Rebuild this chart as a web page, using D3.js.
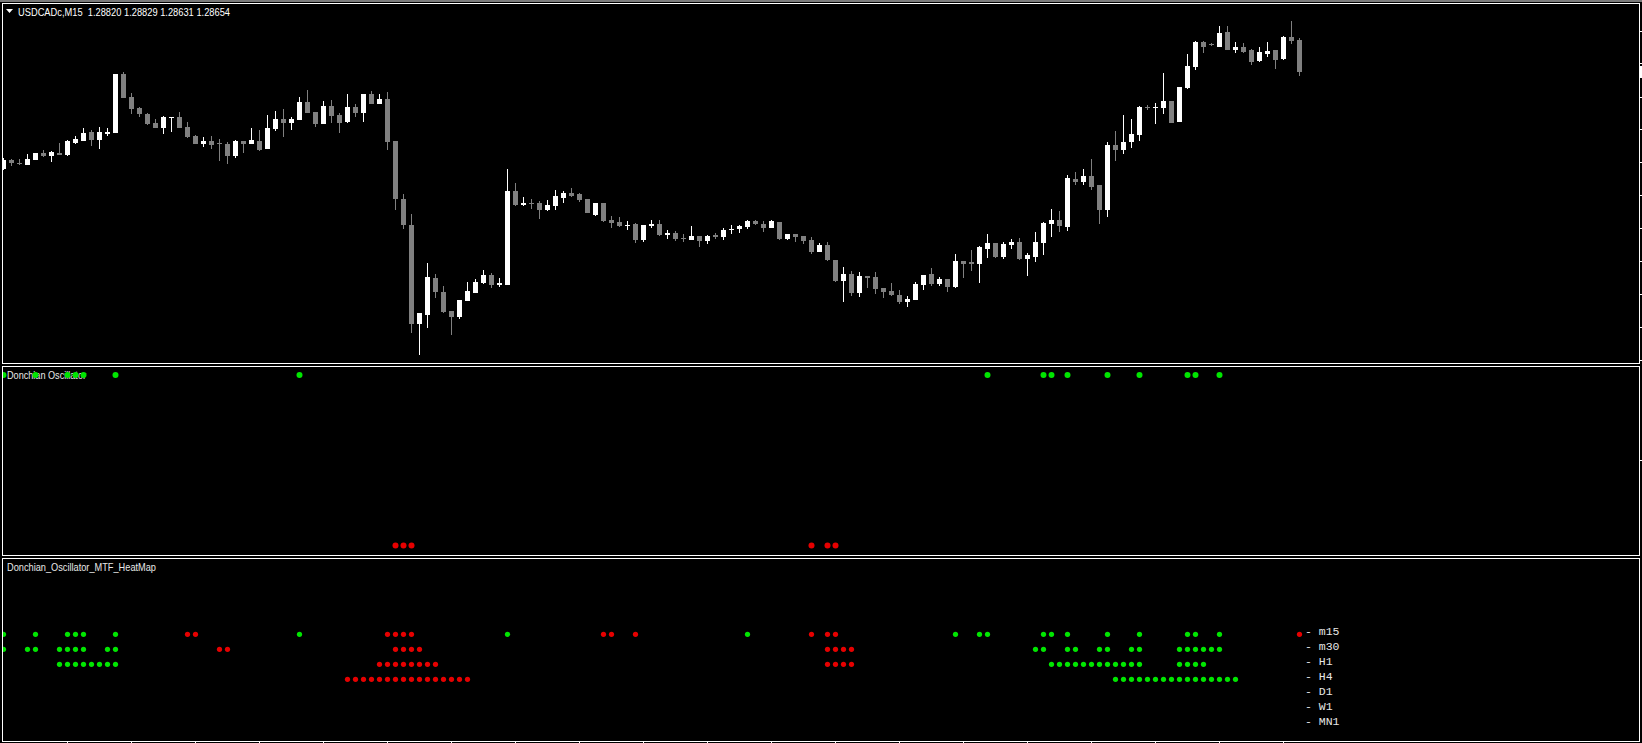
<!DOCTYPE html>
<html><head><meta charset="utf-8">
<script src="https://cdn.jsdelivr.net/npm/d3@7"></script>
<style>html,body{margin:0;padding:0;background:#000;overflow:hidden} text{white-space:pre}</style>
</head><body><svg id="c" width="1642" height="743"></svg>
<script>
const symbolLabel = "USDCADc,M15";
const lastOHLC = [1.28820, 1.28829, 1.28631, 1.28654];
const opens = [1.28150,1.28196,1.28182,1.28170,1.28198,1.28234,1.28219,1.28231,1.28221,1.28286,1.28296,1.28343,1.28300,1.28329,1.28338,1.28642,1.28521,1.28467,1.28436,1.28389,1.28362,1.28416,1.28421,1.28369,1.28322,1.28279,1.28296,1.28284,1.28279,1.28217,1.28295,1.28279,1.28295,1.28255,1.28357,1.28409,1.28389,1.28405,1.28497,1.28443,1.28383,1.28476,1.28429,1.28393,1.28471,1.28441,1.28537,1.28488,1.28512,1.28293,1.27994,1.27860,1.27347,1.27393,1.27585,1.27512,1.27414,1.27383,1.27466,1.27509,1.27558,1.27600,1.27549,1.27549,1.28036,1.27963,1.27974,1.27974,1.27937,1.27958,1.28001,1.28027,1.28022,1.27994,1.27911,1.27974,1.27885,1.27877,1.27854,1.27866,1.27783,1.27853,1.27865,1.27806,1.27818,1.27794,1.27782,1.27803,1.27777,1.27808,1.27797,1.27832,1.27840,1.27851,1.27879,1.27866,1.27846,1.27875,1.27787,1.27813,1.27803,1.27782,1.27721,1.27756,1.27678,1.27571,1.27606,1.27509,1.27595,1.27592,1.27533,1.27518,1.27497,1.27461,1.27471,1.27549,1.27604,1.27554,1.27580,1.27537,1.27671,1.27666,1.27657,1.27735,1.27766,1.27692,1.27756,1.27770,1.27685,1.27694,1.27766,1.27865,1.27885,1.27849,1.28098,1.28081,1.28113,1.28067,1.27937,1.28274,1.28248,1.28289,1.28326,1.28471,1.28467,1.28466,1.28502,1.28393,1.28569,1.28678,1.28809,1.28797,1.28782,1.28859,1.28766,1.28782,1.28766,1.28709,1.28745,1.28766,1.28719,1.28833,1.28820];
const highs = [1.28207,1.28203,1.28203,1.28226,1.28233,1.28248,1.28244,1.28283,1.28300,1.28321,1.28362,1.28352,1.28369,1.28364,1.28642,1.28654,1.28545,1.28470,1.28440,1.28409,1.28424,1.28422,1.28445,1.28392,1.28327,1.28317,1.28321,1.28303,1.28291,1.28300,1.28296,1.28362,1.28352,1.28429,1.28450,1.28460,1.28421,1.28521,1.28559,1.28445,1.28503,1.28507,1.28438,1.28537,1.28486,1.28540,1.28555,1.28538,1.28548,1.28295,1.28020,1.27917,1.27402,1.27661,1.27606,1.27545,1.27416,1.27471,1.27564,1.27581,1.27626,1.27611,1.27585,1.28150,1.28077,1.28005,1.27993,1.27984,1.27989,1.28041,1.28036,1.28051,1.28024,1.27996,1.27974,1.27976,1.27906,1.27901,1.27879,1.27870,1.27860,1.27885,1.27885,1.27834,1.27827,1.27811,1.27854,1.27805,1.27808,1.27820,1.27844,1.27858,1.27860,1.27885,1.27887,1.27879,1.27885,1.27877,1.27813,1.27815,1.27805,1.27796,1.27765,1.27771,1.27680,1.27642,1.27620,1.27616,1.27597,1.27616,1.27535,1.27559,1.27523,1.27493,1.27564,1.27599,1.27637,1.27590,1.27582,1.27708,1.27673,1.27730,1.27749,1.27813,1.27768,1.27773,1.27788,1.27791,1.27715,1.27823,1.27877,1.27942,1.27932,1.28119,1.28133,1.28150,1.28201,1.28069,1.28289,1.28346,1.28429,1.28409,1.28476,1.28481,1.28491,1.28647,1.28504,1.28574,1.28745,1.28813,1.28813,1.28802,1.28890,1.28890,1.28807,1.28802,1.28771,1.28782,1.28807,1.28768,1.28838,1.28916,1.28829];
const lows = [1.28144,1.28165,1.28170,1.28170,1.28198,1.28213,1.28186,1.28222,1.28217,1.28279,1.28293,1.28270,1.28253,1.28321,1.28336,1.28519,1.28436,1.28417,1.28378,1.28360,1.28331,1.28343,1.28364,1.28310,1.28279,1.28265,1.28253,1.28191,1.28175,1.28205,1.28231,1.28277,1.28244,1.28253,1.28348,1.28317,1.28352,1.28403,1.28441,1.28366,1.28381,1.28389,1.28338,1.28386,1.28417,1.28393,1.28485,1.28486,1.28248,1.27937,1.27839,1.27300,1.27186,1.27328,1.27481,1.27404,1.27290,1.27373,1.27464,1.27506,1.27554,1.27535,1.27538,1.27547,1.27958,1.27958,1.27942,1.27891,1.27935,1.27937,1.27975,1.28006,1.27980,1.27922,1.27909,1.27877,1.27844,1.27849,1.27834,1.27766,1.27773,1.27844,1.27803,1.27787,1.27778,1.27771,1.27780,1.27745,1.27761,1.27788,1.27782,1.27814,1.27820,1.27840,1.27860,1.27823,1.27844,1.27782,1.27782,1.27771,1.27763,1.27709,1.27720,1.27675,1.27566,1.27462,1.27493,1.27488,1.27533,1.27502,1.27483,1.27493,1.27452,1.27436,1.27469,1.27523,1.27544,1.27544,1.27514,1.27535,1.27587,1.27621,1.27561,1.27690,1.27689,1.27683,1.27737,1.27678,1.27597,1.27669,1.27704,1.27797,1.27825,1.27830,1.28068,1.28065,1.28041,1.27865,1.27901,1.28191,1.28227,1.28258,1.28295,1.28455,1.28383,1.28434,1.28388,1.28391,1.28567,1.28662,1.28752,1.28787,1.28780,1.28766,1.28750,1.28750,1.28688,1.28702,1.28730,1.28668,1.28717,1.28797,1.28631];
const closes = [1.28196,1.28179,1.28174,1.28201,1.28233,1.28217,1.28236,1.28222,1.28296,1.28303,1.28338,1.28300,1.28343,1.28341,1.28642,1.28519,1.28462,1.28433,1.28383,1.28364,1.28421,1.28421,1.28364,1.28317,1.28279,1.28296,1.28275,1.28277,1.28219,1.28296,1.28279,1.28300,1.28248,1.28362,1.28409,1.28389,1.28409,1.28497,1.28441,1.28383,1.28476,1.28426,1.28389,1.28471,1.28441,1.28540,1.28485,1.28512,1.28289,1.27994,1.27860,1.27347,1.27402,1.27592,1.27512,1.27407,1.27383,1.27471,1.27518,1.27564,1.27600,1.27549,1.27561,1.28036,1.27963,1.27975,1.27967,1.27937,1.27963,1.28010,1.28027,1.28010,1.27989,1.27924,1.27974,1.27880,1.27870,1.27853,1.27861,1.27782,1.27860,1.27865,1.27808,1.27820,1.27785,1.27785,1.27803,1.27777,1.27803,1.27799,1.27834,1.27840,1.27854,1.27879,1.27863,1.27846,1.27879,1.27785,1.27813,1.27799,1.27778,1.27721,1.27756,1.27677,1.27568,1.27606,1.27509,1.27597,1.27587,1.27528,1.27514,1.27495,1.27459,1.27476,1.27554,1.27599,1.27552,1.27581,1.27537,1.27675,1.27659,1.27659,1.27745,1.27765,1.27692,1.27761,1.27771,1.27682,1.27706,1.27771,1.27870,1.27885,1.27854,1.28103,1.28082,1.28113,1.28055,1.27937,1.28274,1.28248,1.28289,1.28331,1.28471,1.28466,1.28471,1.28502,1.28390,1.28574,1.28683,1.28809,1.28782,1.28792,1.28854,1.28768,1.28782,1.28756,1.28704,1.28756,1.28761,1.28714,1.28833,1.28813,1.28654];
const priceTicks = [1.28867,1.28698,1.28525,1.28356,1.28185,1.28014,1.27843,1.27672,1.27501,1.27330,1.27159];

const oscTitle = "Donchian Oscillator";
const oscUpBars = [0,4,8,9,10,14,37,123,130,131,133,138,142,148,149,152];
const oscDownBars = [49,50,51,101,103,104];

const heatTitle = "Donchian_Oscillator_MTF_HeatMap";
const heatRows = ["m15","m30","H1","H4","D1","W1","MN1"];
const m15Up = [0,4,8,9,10,14,37,63,93,119,122,123,130,131,133,138,142,148,149,152];
const m15Dn = [23,24,48,49,50,51,75,76,79,101,103,104,162];
const m30Up = [0,3,4,7,8,9,10,13,14,129,130,133,134,137,138,141,142,147,148,149,150,151,152];
const m30Dn = [27,28,49,50,51,52,103,104,105,106];
const h1Up = [7,8,9,10,11,12,13,14,131,132,133,134,135,136,137,138,139,140,141,142,147,148,149,150];
const h1Dn = [47,48,49,50,51,52,53,54,103,104,105,106];
const h4Up = [139,140,141,142,143,144,145,146,147,148,149,150,151,152,153,154];
const h4Dn = [43,44,45,46,47,48,49,50,51,52,53,54,55,56,57,58];
const d1Up = [], d1Dn = [], w1Up = [], w1Dn = [], mn1Up = [], mn1Dn = [];

const N = closes.length;
const BULL = "#ffffff", BEAR = "#808080", GREEN = "#00e600", RED = "#e60000";

const svg = d3.select("#c");
svg.append("rect").attr("width",1642).attr("height",743).attr("fill","#000");

const x = d3.scaleLinear().domain([0, N-1]).range([3, 3 + 8*(N-1)]);
const y = d3.scaleLinear().domain([1.27145, 1.29010]).range([363, 3]);

// frames
svg.append("rect").attr("x",0).attr("y",0).attr("width",1642).attr("height",2).attr("fill","#7a7a7a");
const frames = [[3,363],[366,555],[558,741]];
frames.forEach(([t,b]) => {
  svg.append("rect").attr("x",2.5).attr("y",t+0.5).attr("width",1637).attr("height",b-t)
    .attr("fill","none").attr("stroke","#fff").attr("stroke-width",1);
});

const defs = svg.append("defs");
defs.append("clipPath").attr("id","cm").append("rect").attr("x",3).attr("y",4).attr("width",1636).attr("height",359);
defs.append("clipPath").attr("id","co").append("rect").attr("x",3).attr("y",367).attr("width",1636).attr("height",188);
defs.append("clipPath").attr("id","ch").append("rect").attr("x",3).attr("y",559).attr("width",1636).attr("height",182);

// candles
const data = d3.range(N).map(i => ({i, o:opens[i], h:highs[i], l:lows[i], c:closes[i]}));
const gm = svg.append("g").attr("clip-path","url(#cm)");
gm.selectAll("rect.w").data(data).join("rect").attr("class","w")
  .attr("x", d => Math.round(x(d.i))).attr("width",1)
  .attr("y", d => Math.round(y(d.h)))
  .attr("height", d => Math.max(1, Math.round(y(d.l)) - Math.round(y(d.h))))
  .attr("fill", d => d.c >= d.o ? BULL : BEAR);
gm.selectAll("rect.b").data(data).join("rect").attr("class","b")
  .attr("x", d => Math.round(x(d.i)) - 2).attr("width",5)
  .attr("y", d => Math.round(y(Math.max(d.o,d.c))))
  .attr("height", d => Math.max(1, Math.round(y(Math.min(d.o,d.c))) - Math.round(y(Math.max(d.o,d.c)))))
  .attr("fill", d => d.c >= d.o ? BULL : BEAR);

// price scale ticks (labels fall outside the visible window)
svg.selectAll("rect.pt").data(priceTicks).join("rect").attr("class","pt")
  .attr("x",1640).attr("width",2).attr("y", d => Math.round(y(d))).attr("height",1).attr("fill","#fff");
svg.append("rect").attr("x",1640).attr("width",4).attr("y", Math.round(y(lastOHLC[3])) - 6).attr("height",12).attr("fill","#fff");

// header
svg.append("path").attr("d","M6,9 L13,9 L9.5,13 Z").attr("fill","#fff");
svg.append("text").attr("x",18).attr("y",15.5).attr("fill","#fff")
  .attr("font-family","Liberation Sans, Arial, sans-serif").attr("font-size",11)
  .attr("textLength",212).attr("lengthAdjust","spacingAndGlyphs")
  .text(symbolLabel + "  " + lastOHLC.map(v => v.toFixed(5)).join(" "));

// oscillator
const yo = d3.scaleLinear().domain([0,100]).range([545.5, 375]);
const go = svg.append("g").attr("clip-path","url(#co)");
svg.append("rect").attr("x",1640).attr("width",2).attr("y", Math.round(yo(50))).attr("height",1).attr("fill","#fff");
go.append("text").attr("x",7).attr("y",379).attr("fill","#e8e8e8")
  .attr("font-family","Liberation Sans, Arial, sans-serif").attr("font-size",10.5)
  .attr("textLength",79).attr("lengthAdjust","spacingAndGlyphs").text(oscTitle);
go.selectAll("circle.u").data(oscUpBars).join("circle").attr("class","u")
  .attr("cx", d => x(d) + 0.5).attr("cy", yo(100)).attr("r",3).attr("fill",GREEN);
go.selectAll("circle.d").data(oscDownBars).join("circle").attr("class","d")
  .attr("cx", d => x(d) + 0.5).attr("cy", yo(0)).attr("r",3).attr("fill",RED);

// heatmap
const yh = d3.scalePoint().domain(heatRows).range([634.3, 634.3 + 15*6]);
const gh = svg.append("g").attr("clip-path","url(#ch)");
gh.append("text").attr("x",7).attr("y",570.5).attr("fill","#e8e8e8")
  .attr("font-family","Liberation Sans, Arial, sans-serif").attr("font-size",10.5)
  .attr("textLength",149).attr("lengthAdjust","spacingAndGlyphs").text(heatTitle);
const rowsUp = [m15Up,m30Up,h1Up,h4Up,d1Up,w1Up,mn1Up];
const rowsDn = [m15Dn,m30Dn,h1Dn,h4Dn,d1Dn,w1Dn,mn1Dn];
const dots = [];
heatRows.forEach((r,k) => {
  rowsUp[k].forEach(b => dots.push({r, b, up:true}));
  rowsDn[k].forEach(b => dots.push({r, b, up:false}));
});
gh.selectAll("circle").data(dots).join("circle")
  .attr("cx", d => x(d.b) + 0.5).attr("cy", d => yh(d.r)).attr("r",2.6)
  .attr("fill", d => d.up ? GREEN : RED);
gh.selectAll("text.lab").data(heatRows).join("text").attr("class","lab")
  .attr("x", 1305).attr("y", d => yh(d) + 0.5).attr("fill","#e6e6e6")
  .attr("font-family","Liberation Mono, Courier New, monospace").attr("font-size",11.5)
  .text(d => "- " + d);

// time axis ticks every 8 bars
const timeTicks = d3.range(8, N, 8);
svg.selectAll("rect.tt").data(timeTicks).join("rect").attr("class","tt")
  .attr("x", d => Math.round(x(d))).attr("width",1).attr("y",741).attr("height",2).attr("fill","#fff");
</script>
</body></html>
